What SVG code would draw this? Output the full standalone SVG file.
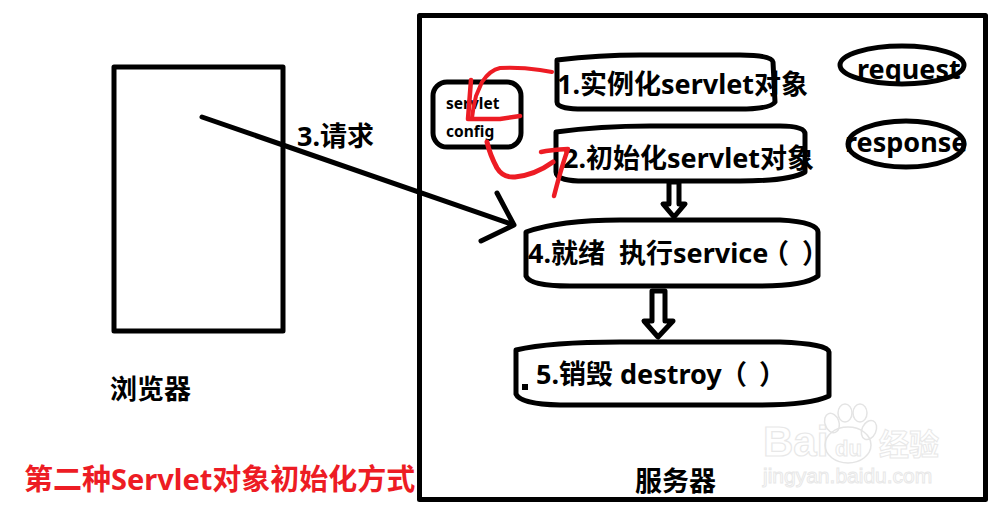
<svg xmlns="http://www.w3.org/2000/svg" width="996" height="508" viewBox="0 0 996 508">
<style>
text{font-family:"Noto Sans","Noto Sans CJK SC",sans-serif;font-weight:700;fill:#000;white-space:pre}
.s{fill:none;stroke:#000;stroke-width:5;stroke-linejoin:round}
.t{font-size:27px}
.r{fill:none;stroke:#ed1c24;stroke-linecap:round;stroke-linejoin:round}
.w{fill:#fff;stroke:#e8e8e8;stroke-width:1;font-family:"Liberation Sans",sans-serif}
</style>
<rect width="996" height="508" fill="#fff"/>
<g id="browser"><rect class="s" x="114" y="67" width="169" height="264"/><text x="110" y="399" style="font-size:27px">浏览器</text></g>
<g id="server"><rect class="s" x="419.500" y="15.500" width="566" height="484"/><text x="635" y="491" style="font-size:27px">服务器</text></g>
<g id="watermark">
<text class="w" x="763" y="456" style="font-size:42px;stroke-width:1.200">Bai</text>
<text class="w" x="835" y="456" style="font-size:22px">du</text>
<text class="w" x="879" y="455" style="font-size:30px;font-family:'Noto Sans CJK SC',sans-serif">经验</text>
<text class="w" x="763" y="483" style="font-size:21px;font-weight:400">jingyan.baidu.com</text>
<g fill="none" stroke="#e4e4e4" stroke-width="1.500"><ellipse cx="848" cy="445" rx="23" ry="18"/><ellipse cx="832" cy="423" rx="7" ry="10" transform="rotate(-20 832 423)"/><ellipse cx="845" cy="413" rx="7" ry="9"/><ellipse cx="860" cy="413" rx="7" ry="9"/><ellipse cx="869" cy="430" rx="7" ry="10" transform="rotate(25 869 430)"/></g>
</g>
<g id="config"><rect class="s" x="433" y="82" width="88" height="65" rx="14"/><text x="446" y="109" style="font-size:15.500px">servlet</text><text x="446" y="137" style="font-size:15.500px">config</text></g>
<g id="step1"><path class="s" d="M557 60Q600 55 640 55H740Q772 55 773 62L775 102Q770 110 730 109H590Q557 110 557 102Z"/><text class="t" x="557" y="94">1.实例化servlet对象</text></g>
<g id="step2"><path class="s" d="M556 132Q600 126 650 126H780Q805 126 805 134V172Q790 181 740 181H590Q556 182 556 172Z"/><text class="t" x="563" y="168">2.初始化servlet对象</text></g>
<g id="step4"><path class="s" d="M526 232Q560 220 620 220H780Q818 222 818 232V276Q805 286 760 286H570Q530 286 526 276Z"/><text class="t" x="528" y="263">4.就绪  执行service</text><text class="t" x="762" y="263">（</text><text class="t" x="802" y="263">）</text></g>
<g id="step5"><path class="s" d="M516 350Q550 342 620 342H780Q828 344 829 352V396Q810 405 760 405H560Q520 404 516 394Z"/><text class="t" x="536" y="384">5.销毁 destroy</text><text class="t" x="720" y="384">（</text><text class="t" x="759" y="384">）</text><rect x="522" y="384" width="6" height="6"/></g>
<g id="request"><ellipse class="s" cx="902" cy="65" rx="62" ry="19"/><text x="857" y="79" style="font-size:27px">request</text></g>
<g id="response"><ellipse class="s" cx="906" cy="144" rx="58" ry="23"/><text x="845" y="152" style="font-size:27px">response</text></g>
<text id="caption" x="24" y="490" style="font-size:29px;fill:#ed1c24">第二种Servlet对象初始化方式</text>
<g id="connectors">
<path class="s" d="M202 117L514 225M497 193L514 225L481 241" stroke-linecap="round"/>
<path class="s" d="M669 182H679V204H685L674 217L663 204H669Z"/>
<path class="s" d="M652 291H665V321H673L658 337L644 321H652Z"/>
<path class="r" d="M552 72L540 70Q520 67 500 68Q490 70 482 82L476 96Q473 108 472 118" style="stroke-width:4"/>
<path class="r" d="M471 80L468 119L500 119L520 116" style="stroke-width:4.500"/>
<path class="r" d="M487 142Q490 155 497 168Q503 178 515 177Q535 175 553 162" style="stroke-width:5"/>
<path class="r" d="M541 152Q550 150 568 149Q562 165 554 196" style="stroke-width:4.500"/>
</g>
<text id="label" x="297" y="146" style="font-size:27px">3.请求</text>
</svg>
